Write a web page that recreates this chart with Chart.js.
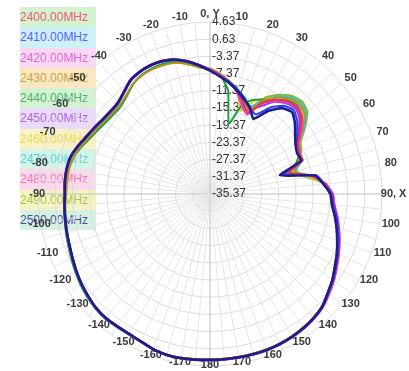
<!DOCTYPE html>
<html><head><meta charset="utf-8">
<script src="https://cdn.jsdelivr.net/npm/chart.js@4"></script>
<style>
html,body{margin:0;padding:0;background:#fff;}
#wrap{position:relative;width:409px;height:371px;overflow:hidden;}
#legend{position:absolute;left:20px;top:7px;z-index:0;font:12px "Liberation Sans",Arial,sans-serif;}
#legend div{height:20.3px;line-height:20.3px;width:76px;white-space:nowrap;}
#c{position:absolute;left:0;top:0;z-index:1;}
</style></head>
<body><div id="wrap"><div id="legend"></div><canvas id="c" width="409" height="371"></canvas></div>
<script>
// categories: angle in degrees, clockwise from 0 (top)
const angles = [0,5,10,15,20,25,30,35,40,45,50,55,60,65,70,75,80,85,90,95,100,105,110,115,120,125,130,135,140,145,150,155,160,165,170,175,180,185,190,195,200,205,210,215,220,225,230,235,240,245,250,255,260,265,270,275,280,285,290,295,300,305,310,315,320,325,330,335,340,345,350,355];
const angleTickText = ["0, Y","10","20","30","40","50","60","70","80","90, X","100","110","120","130","140","150","160","170","180","-170","-160","-150","-140","-130","-120","-110","-100","-90","-80","-70","-60","-50","-40","-30","-20","-10"];
const radialTicks = [-35.37,-31.37,-27.37,-23.37,-19.37,-15.37,-11.37,-7.37,-3.37,0.63,4.63];
const seriesNames = ["2400.00MHz","2410.00MHz","2420.00MHz","2430.00MHz","2440.00MHz","2450.00MHz","2460.00MHz","2470.00MHz","2480.00MHz","2490.00MHz","2500.00MHz"];

// gain in dB per angle
const f2400 = [-6.5,-7.8,-9.2,-10.8,-12.8,-14.6,-10.8,-8.6,-7.2,-6.8,-7.8,-9.8,-11.8,-12.6,-12.4,-16.5,-10.8,-8.5,
-7.2,-6.7,-5.8,-4.8,-3.8,-2.7,-1.7,-0.5,0.5,1.6,2.2,2.6,2.9,3.1,3.2,3.2,3.2,3.2,
3.2,3.3,3.4,3.4,3.1,2.5,2.2,2.2,2.3,2.1,1.6,1.1,0.5,-0.1,-0.6,-0.9,-1.2,-1.4,
-1.6,-1.5,-1.5,-1.8,-2.7,-3.7,-4.4,-5.0,-5.3,-5.2,-4.3,-3.1,-2.6,-2.4,-2.5,-3.0,-4.0,-5.3];
const f2410 = [-6.5,-7.8,-9.0,-10.4,-11.8,-13.5,-14.0,-10.8,-8.6,-7.8,-8.9,-10.6,-12.0,-12.7,-12.5,-17.5,-10.3,-8.6,
-7.0,-6.5,-5.5,-4.5,-3.5,-2.5,-1.5,-0.4,0.6,1.7,2.3,2.7,3.0,3.2,3.3,3.3,3.2,3.2,
3.2,3.3,3.4,3.4,3.1,2.5,2.2,2.2,2.3,2.1,1.6,1.1,0.5,-0.1,-0.6,-0.9,-1.2,-1.4,
-1.6,-1.5,-1.6,-1.9,-2.8,-3.8,-4.5,-5.1,-5.4,-5.3,-4.4,-3.2,-2.7,-2.5,-2.6,-3.1,-4.1,-5.4];
const f2420 = [-6.4,-7.6,-9.0,-11.0,-13.6,-15.0,-11.0,-9.0,-7.6,-6.6,-7.4,-9.4,-11.6,-12.4,-12.6,-17.0,-11.2,-8.4,
-6.8,-6.3,-5.3,-4.3,-3.3,-2.3,-1.3,-0.2,0.8,1.8,2.4,2.8,3.0,3.2,3.3,3.3,3.3,3.3,
3.3,3.4,3.5,3.4,3.1,2.6,2.3,2.3,2.4,2.2,1.7,1.2,0.6,0.0,-0.5,-0.8,-1.1,-1.3,
-1.5,-1.4,-1.5,-1.8,-2.6,-3.6,-4.3,-4.9,-5.2,-5.1,-4.2,-3.0,-2.5,-2.3,-2.4,-2.9,-3.9,-5.2];
const f2430 = [-6.3,-7.5,-8.9,-10.5,-12.2,-13.8,-10.2,-8.0,-6.4,-5.8,-6.6,-9.0,-11.4,-12.2,-13.5,-15.0,-11.8,-8.3,
-7.3,-6.9,-5.9,-4.9,-3.9,-2.9,-1.9,-0.7,0.3,1.5,2.1,2.5,2.8,3.0,3.1,3.1,3.1,3.1,
3.1,3.2,3.3,3.3,3.0,2.5,2.2,2.2,2.3,2.1,1.6,1.1,0.5,-0.1,-0.6,-1.0,-1.3,-1.6,
-1.9,-2.0,-2.1,-2.4,-3.3,-4.3,-5.0,-5.6,-5.9,-5.9,-5.2,-4.1,-3.6,-3.4,-3.5,-3.8,-4.7,-5.8];
const f2440 = [-6.3,-7.6,-11.0,-18.4,-13.0,-11.2,-10.0,-8.6,-7.0,-6.4,-7.4,-9.6,-11.6,-12.4,-14.0,-16.0,-11.0,-8.4,
-7.2,-6.8,-5.8,-4.8,-3.8,-2.8,-1.8,-0.6,0.4,1.5,2.1,2.5,2.8,3.0,3.1,3.1,3.1,3.1,
3.1,3.2,3.3,3.3,3.1,2.6,2.4,2.4,2.5,2.3,1.9,1.4,0.8,0.2,-0.3,-0.7,-1.1,-1.4,
-1.7,-1.8,-2.0,-2.5,-3.5,-4.6,-5.4,-6.0,-6.3,-6.2,-5.4,-4.2,-3.5,-3.2,-3.2,-3.6,-4.5,-5.7];
const f2450 = [-6.4,-7.7,-9.0,-10.6,-12.0,-13.6,-11.8,-9.2,-7.8,-7.2,-8.2,-10.2,-11.9,-12.6,-12.6,-17.8,-10.5,-8.6,
-7.0,-6.5,-5.5,-4.5,-3.5,-2.5,-1.5,-0.4,0.6,1.7,2.3,2.7,3.0,3.2,3.3,3.3,3.2,3.2,
3.2,3.3,3.4,3.4,3.1,2.5,2.2,2.2,2.3,2.1,1.6,1.1,0.5,-0.1,-0.6,-0.9,-1.2,-1.4,
-1.6,-1.5,-1.6,-1.9,-2.8,-3.8,-4.5,-5.1,-5.4,-5.3,-4.4,-3.2,-2.7,-2.5,-2.6,-3.1,-4.1,-5.4];
const f2460 = [-6.2,-7.4,-8.8,-10.6,-14.8,-11.6,-9.8,-8.2,-6.8,-6.2,-7.0,-9.2,-11.4,-12.3,-13.0,-15.5,-12.5,-8.5,
-7.3,-6.9,-5.9,-4.9,-3.9,-2.9,-1.9,-0.7,0.3,1.5,2.1,2.5,2.8,3.0,3.1,3.1,3.1,3.1,
3.1,3.2,3.3,3.3,3.0,2.5,2.2,2.2,2.3,2.1,1.6,1.1,0.5,-0.1,-0.6,-1.0,-1.3,-1.6,
-1.9,-2.0,-2.1,-2.4,-3.3,-4.3,-5.0,-5.6,-5.9,-5.9,-5.2,-4.1,-3.6,-3.4,-3.5,-3.8,-4.7,-5.8];
const f2470 = [-6.2,-7.4,-8.8,-10.2,-11.6,-12.9,-10.0,-7.6,-6.0,-5.4,-6.2,-8.6,-11.2,-12.2,-12.8,-14.6,-12.8,-8.2,
-7.2,-6.8,-5.8,-4.8,-3.8,-2.8,-1.8,-0.6,0.4,1.5,2.1,2.5,2.8,3.0,3.1,3.1,3.1,3.1,
3.1,3.2,3.3,3.3,3.1,2.6,2.4,2.4,2.5,2.3,1.9,1.4,0.8,0.2,-0.3,-0.7,-1.1,-1.4,
-1.7,-1.8,-2.0,-2.5,-3.5,-4.6,-5.4,-6.0,-6.3,-6.2,-5.4,-4.2,-3.5,-3.2,-3.2,-3.6,-4.5,-5.7];
const f2480 = [-6.4,-7.6,-9.0,-10.5,-12.3,-14.2,-10.4,-8.2,-6.6,-5.9,-6.8,-9.0,-11.5,-12.4,-12.8,-16.2,-11.4,-8.4,
-6.8,-6.3,-5.3,-4.3,-3.3,-2.3,-1.3,-0.2,0.8,1.8,2.4,2.8,3.0,3.2,3.3,3.3,3.3,3.3,
3.3,3.4,3.5,3.4,3.1,2.6,2.3,2.3,2.4,2.2,1.7,1.2,0.6,0.0,-0.5,-0.8,-1.1,-1.3,
-1.5,-1.4,-1.5,-1.8,-2.6,-3.6,-4.3,-4.9,-5.2,-5.1,-4.2,-3.0,-2.5,-2.3,-2.4,-2.9,-3.9,-5.2];
const f2490 = [-6.2,-7.5,-8.8,-10.4,-12.0,-13.2,-9.4,-7.2,-5.6,-5.0,-5.8,-8.4,-11.0,-12.0,-13.8,-14.8,-12.2,-8.3,
-7.2,-6.7,-5.8,-4.8,-3.8,-2.7,-1.7,-0.5,0.5,1.6,2.2,2.6,2.9,3.1,3.2,3.2,3.2,3.2,
3.2,3.3,3.4,3.4,3.1,2.5,2.2,2.2,2.3,2.1,1.6,1.1,0.5,-0.1,-0.6,-0.9,-1.2,-1.4,
-1.6,-1.5,-1.5,-1.8,-2.7,-3.7,-4.4,-5.0,-5.3,-5.2,-4.3,-3.1,-2.6,-2.4,-2.5,-3.0,-4.0,-5.3];
const f2500 = [-6.7,-8.0,-9.2,-10.6,-12.0,-13.3,-15.2,-11.8,-9.3,-8.4,-9.6,-11.2,-12.4,-13.0,-12.8,-18.5,-10.6,-8.9,
-7.4,-6.9,-5.9,-4.9,-3.9,-2.8,-1.8,-0.6,0.4,1.6,2.2,2.6,2.9,3.1,3.2,3.2,3.2,3.2,
3.2,3.3,3.4,3.4,3.1,2.5,2.2,2.2,2.3,2.1,1.6,1.1,0.5,-0.1,-0.6,-0.9,-1.2,-1.4,
-1.6,-1.5,-1.5,-1.8,-2.7,-3.7,-4.4,-5.0,-5.3,-5.2,-4.3,-3.1,-2.6,-2.4,-2.5,-3.0,-4.0,-5.3];

const seriesData = [f2400,f2410,f2420,f2430,f2440,f2450,f2460,f2470,f2480,f2490,f2500];
const lineColors = ['#e8305a','#2a3cff','#e040d0','#b89020','#20a040','#9a40e0','#e8d020','#30c8d8','#ff50a8','#88b828','#1c1c8c'];
const legendBg = ['#c9f0c2','#c2eef8','#f6d2f0','#fbe3b2','#c9f0c9','#e6d2f8','#faf0ba','#c9f3e0','#f7d2e8','#f7efb4','#c9efd9'];

// HTML legend
const lg = document.getElementById('legend');
seriesNames.forEach((n,i)=>{
  const d=document.createElement('div');
  d.textContent=n; d.style.background=legendBg[i]; d.style.color=lineColors[i]; d.style.opacity='0.8';
  lg.appendChild(d);
});

const labelPlugin = {
  id:'labelPlugin',
  beforeDatasetsDraw(chart){
    const s = chart.scales.r, ctx = chart.ctx;
    ctx.save();
    // radial tick labels
    ctx.font = '12px "Liberation Sans", Arial, sans-serif';
    ctx.fillStyle = '#333';
    ctx.textAlign = 'left'; ctx.textBaseline = 'middle';
    radialTicks.forEach(v=>{
      const d = s.getDistanceFromCenterForValue(v);
      ctx.fillText(v.toFixed(2), s.xCenter + 2, s.yCenter - d);
    });
    // angular labels
    ctx.font = 'bold 11px "Liberation Sans", Arial, sans-serif';
    ctx.fillStyle = '#3a3a3a';
    ctx.textAlign = 'center';
    const rl = s.drawingArea + 8;
    angleTickText.forEach((t,k)=>{
      const p = s.getPointPosition(k*2, rl);
      const dx = p.x - s.xCenter, dy = p.y - s.yCenter;
      const fx = dx >= 0 ? 1.02 : 0.96;
      const fy = dy <= 0 ? 1.0 : 0.95;
      ctx.fillText(t, s.xCenter + dx*fx, s.yCenter + dy*fy);
    });
    ctx.restore();
  }
};

new Chart(document.getElementById('c'), {
  type:'radar',
  data:{
    labels: angles,
    datasets: seriesData.map((d,i)=>({
      label: seriesNames[i], data: d, borderColor: lineColors[i],
      borderWidth: i===10 ? 2.6 : 2, pointRadius: 0, fill:false, tension:0.15,
      order: i===10 ? -1 : i
    }))
  },
  options:{
    responsive:false, animation:false, devicePixelRatio:1,
    layout:{padding:{left:38,right:27,top:22,bottom:5}},
    plugins:{legend:{display:false}, tooltip:{enabled:false}},
    scales:{ r:{
      min:-35.37, max:4.63,
      afterBuildTicks:(sc)=>{ sc.ticks = radialTicks.map(v=>({value:v})); },
      ticks:{display:false},
      pointLabels:{display:false},
      grid:{circular:true, color:'#dcdcdc', lineWidth:1},
      angleLines:{color:(c)=> (c.index % 18 === 0 ? '#bdbdbd' : '#e6e6e6'), lineWidth:1}
    }}
  },
  plugins:[labelPlugin]
});
</script></body></html>
